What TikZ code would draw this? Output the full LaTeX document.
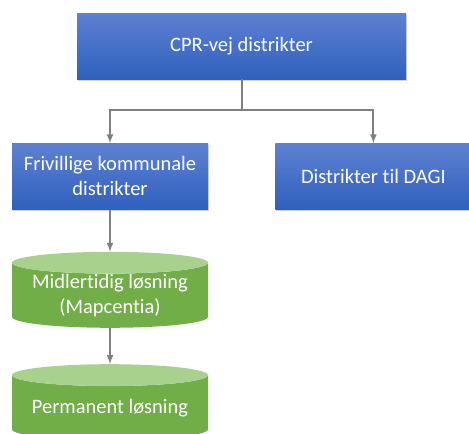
\documentclass[tikz,border=0pt]{standalone}
\usepackage{fontspec}
\setmainfont{Carlito}[Ligatures=NoCommon]
\usepackage{tikz}
\usetikzlibrary{shapes.geometric, arrows, positioning, shadows}
\definecolor{boxtop}{HTML}{5D81D2}
\definecolor{boxbottom}{HTML}{3060BD}
\definecolor{cylbody}{HTML}{71AE48}
\definecolor{cylend}{HTML}{A9D18E}
\definecolor{linegray}{HTML}{7F7F7F}
\tikzstyle{process} = [rectangle, minimum width=196pt, minimum height=66pt, text centered, align=center, text=white, top color=boxtop, bottom color=boxbottom, drop shadow={opacity=0.35, shadow xshift=0.5pt, shadow yshift=-1.5pt}, font=\fontsize{20.5}{25}\selectfont]
\tikzstyle{database} = [cylinder, shape border rotate=90, aspect=0.14, minimum width=196pt, minimum height=76pt, inner sep=0pt, text centered, align=center, text=white, cylinder uses custom fill, cylinder body fill=cylbody, cylinder end fill=cylend, font=\fontsize{20.5}{25}\selectfont]
\tikzstyle{arrow} = [line width=2pt, draw=linegray, ->, >=latex]

\begin{document}
\begin{tikzpicture}[x=1pt, y=1pt, node distance=64pt]
    \useasboundingbox (0,0) rectangle (469,-434);
    % Nodes
    \node (cpr) [process, minimum width=329pt] at (241.5,-46) {CPR-vej distrikter};
    \node (frivillig) [process, below=of cpr, xshift=-131.5pt] {Frivillige kommunale\\distrikter};
    \node (dagi) [process, right=67pt of frivillig] {Distrikter til DAGI};
    \node (midlertidig) [database, below=42pt of frivillig] {Midlertidig løsning\\(Mapcentia)};
    \node (permanent) [database, below=36pt of midlertidig] {Permanent løsning};

    % Arrows
    \draw [arrow] (cpr.south) -- ++(0,-31) -| (frivillig);
    \draw [arrow] (cpr.south) -- ++(0,-31) -| (dagi);
    \draw [arrow] (frivillig) -- (midlertidig);
    \draw [arrow] (midlertidig) -- (permanent);
\end{tikzpicture}
\end{document}
